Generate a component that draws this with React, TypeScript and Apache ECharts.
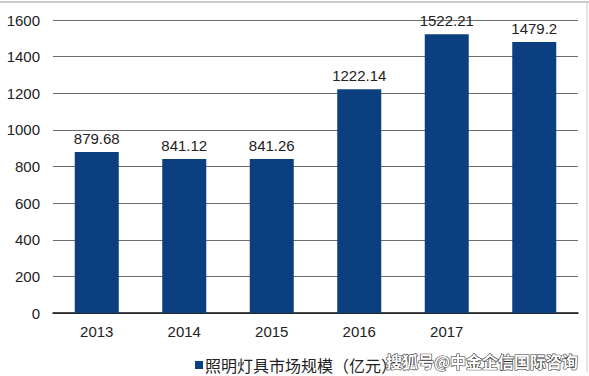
import React, { useEffect, useRef } from "react";
import * as echarts from "echarts";

const categories = ["2013", "2014", "2015", "2016", "2017", "2018"];
const values = [879.68, 841.12, 841.26, 1222.14, 1522.21, 1479.2];
const valueLabels = ["879.68", "841.12", "841.26", "1222.14", "1522.21", "1479.2"];
const seriesName = "照明灯具市场规模（亿元）";
const watermark = "搜狐号@中金企信国际咨询";

export default function App() {
  const ref = useRef<HTMLDivElement>(null);
  useEffect(() => {
    const chart = echarts.init(ref.current!, null, { renderer: "svg" });
    const font = "'Liberation Sans', Arial, 'Noto Sans CJK SC', sans-serif";
    chart.setOption({
      animation: false,
      backgroundColor: "#ffffff",
      textStyle: { fontFamily: font },
      grid: { left: 53, right: 11, top: 20, bottom: 63, containLabel: false },
      legend: {
        show: true,
        left: 190,
        top: 352,
        itemWidth: 8,
        itemHeight: 8,
        itemGap: 3,
        icon: "rect",
        textStyle: { fontSize: 16, color: "#222", fontFamily: "'Noto Sans CJK SC', sans-serif", padding: [0, 0, 0, -3] },
        data: [seriesName],
      },
      xAxis: {
        type: "category",
        data: categories,
        axisTick: { show: false },
        axisLine: { show: true, lineStyle: { color: "#111", width: 1.5 } },
        axisLabel: {
          fontSize: 15,
          color: "#222",
          margin: 11,
          formatter: (v: string, i: number) => (i === 5 ? "" : v),
        },
      },
      yAxis: {
        type: "value",
        min: 0,
        max: 1600,
        interval: 200,
        axisLine: { show: false },
        axisTick: { show: false },
        axisLabel: { fontSize: 15, color: "#222", margin: 13, formatter: (v: number) => String(v) },
        splitLine: { lineStyle: { color: "#6e6e6e", width: 1 } },
      },
      series: [
        {
          name: seriesName,
          type: "bar",
          data: values,
          barWidth: 44,
          itemStyle: { color: "#0b3f7f" },
          label: {
            show: true,
            position: "top",
            distance: 6,
            fontSize: 15,
            color: "#222",
            formatter: (p: any) => valueLabels[p.dataIndex],
          },
        },
      ],
      graphic: [
        { type: "line", shape: { x1: 0, y1: 2, x2: 589, y2: 2 }, style: { stroke: "#9a9a9a", lineWidth: 1 } },
        { type: "line", shape: { x1: 587, y1: 2, x2: 587, y2: 372 }, style: { stroke: "#c8c8c8", lineWidth: 1 } },
        { type: "rect", shape: { x: 384, y: 350, width: 192, height: 22 }, style: { fill: "#ffffff" } },
        {
          type: "text",
          x: 386,
          y: 361,
          style: {
            text: watermark,
            fontSize: 16,
            fontWeight: "bold",
            fontFamily: "'Noto Sans CJK SC', sans-serif",
            fill: "#ffffff",
            stroke: "#333333",
            lineWidth: 1.2,
            verticalAlign: "middle",
          },
        },
      ],
    });
    return () => chart.dispose();
  }, []);
  return <div ref={ref} style={{ width: 589, height: 376, position: "absolute", left: 0, top: 0 }} />;
}
